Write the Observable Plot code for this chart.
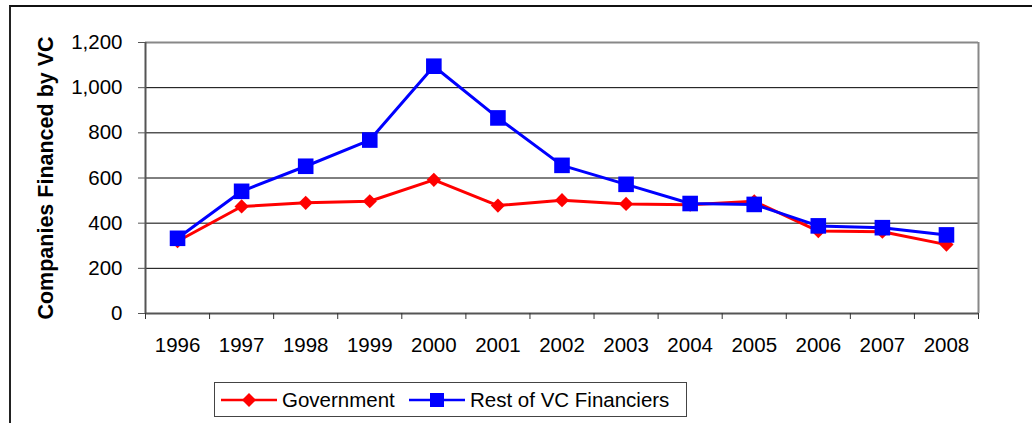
<!DOCTYPE html>
<html>
<head>
<meta charset="utf-8">
<script src="https://cdn.jsdelivr.net/npm/d3@7"></script>
<script src="https://cdn.jsdelivr.net/npm/@observablehq/plot@0.6"></script>
<style>
  html, body { margin: 0; padding: 0; background: #fff; }
  #wrap { position: relative; width: 1032px; height: 423px; overflow: hidden; font-family: "Liberation Sans", Arial, sans-serif; }
  #outer { position: absolute; left: 9px; top: 5px; width: 1040px; height: 430px; border-top: 2px solid #111; border-left: 2px solid #222; box-sizing: border-box; }
  #chart { position: absolute; left: 0; top: 0; }
  #legend { position: absolute; left: 214px; top: 382px; width: 473px; height: 35px; border: 1px solid #444; box-sizing: border-box; background: #fff; }
  .item { position: absolute; top: 0; height: 33px; display: flex; align-items: center; font-size: 20.5px; color: #000; white-space: nowrap; }
  .item svg { display: block; margin-right: 5px; }
</style>
</head>
<body>
<div id="wrap">
  <div id="outer"></div>
  <div id="chart"></div>
  <div id="legend"></div>
</div>
<script>
// ---- data ----
const years = [1996, 1997, 1998, 1999, 2000, 2001, 2002, 2003, 2004, 2005, 2006, 2007, 2008];
const government = [320, 474, 490, 497, 592, 478, 502, 485, 482, 497, 365, 362, 305];
const restOfVC = [333, 541, 652, 768, 1095, 866, 656, 572, 487, 483, 388, 380, 348];
const yTicks = [0, 200, 400, 600, 800, 1000, 1200];
const seriesNames = ["Government", "Rest of VC Financiers"];
const yTitle = "Companies Financed by VC";

const gov = years.map((y, i) => ({year: y, value: government[i]}));
const rest = years.map((y, i) => ({year: y, value: restOfVC[i]}));
const xDomain = [years[0] - 0.5, years[years.length - 1] + 0.5];
const bounds = [...years.map(y => y - 0.5), years[years.length - 1] + 0.5];
const yMax = yTicks[yTicks.length - 1];

const font = "Liberation Sans, Arial, sans-serif";

const chart = Plot.plot({
  width: 1032,
  height: 370,
  marginLeft: 145,
  marginRight: 54,
  marginTop: 42,
  marginBottom: 57,
  style: {fontFamily: font, background: "transparent", overflow: "visible"},
  x: {type: "linear", domain: xDomain},
  y: {domain: [0, yMax]},
  marks: [
    // gridlines
    Plot.ruleY(yTicks.filter(v => v > 0 && v < yMax), {stroke: "#000", strokeWidth: 1}),
    // frame: top/right gray
    Plot.ruleY([yMax], {stroke: "#888", strokeWidth: 2}),
    Plot.ruleX([xDomain[1]], {stroke: "#888", strokeWidth: 2}),
    // axes lines
    Plot.ruleX([xDomain[0]], {stroke: "#555", strokeWidth: 2}),
    Plot.ruleY([0], {stroke: "#555", strokeWidth: 2}),
    // y axis ticks and labels
    Plot.axisY({ticks: yTicks, tickSize: 7, tickPadding: 16, tickFormat: d3.format(","), fontSize: 20.5, stroke: "#555", color: "#000", label: null}),
    // x axis boundary ticks
    Plot.axisX({ticks: bounds, tickSize: 6, tickFormat: () => "", stroke: "#333", label: null}),
    // x axis labels
    Plot.axisX({ticks: years, tickSize: 0, tickPadding: 24, tickFormat: d => String(d), fontSize: 20.5, color: "#000", label: null}),
    // y title
    Plot.text([yTitle], {frameAnchor: "left", textAnchor: "middle", lineAnchor: "middle", rotate: -90, dx: -99, fontSize: 21.5, fontWeight: "bold", fill: "#000"}),
    // series
    Plot.line(gov, {x: "year", y: "value", stroke: "#ff0000", strokeWidth: 3}),
    Plot.line(rest, {x: "year", y: "value", stroke: "#0000ff", strokeWidth: 3}),
    Plot.dot(gov, {x: "year", y: "value", symbol: "diamond2", r: 6.4, fill: "#ff0000"}),
    Plot.dot(rest, {x: "year", y: "value", symbol: "square", r: 8.8, fill: "#0000ff"})
  ]
});
document.getElementById("chart").appendChild(chart);

// legend
const legend = document.getElementById("legend");
const sw = [
  {name: seriesNames[0], color: "#ff0000", shape: "diamond", left: 6},
  {name: seriesNames[1], color: "#0000ff", shape: "square", left: 194}
];
for (const s of sw) {
  const item = document.createElement("div");
  item.className = "item";
  item.style.left = s.left + "px";
  const shape = s.shape === "diamond"
    ? `<path d="M28,3 L35,10 L28,17 L21,10 Z" fill="${s.color}"/>`
    : `<rect x="21" y="3" width="14" height="14" fill="${s.color}"/>`;
  item.innerHTML = `<svg width="56" height="20" viewBox="0 0 56 20"><line x1="0" y1="10" x2="56" y2="10" stroke="${s.color}" stroke-width="2.5"/>${shape}</svg><span>${s.name}</span>`;
  legend.appendChild(item);
}
</script>
</body>
</html>
